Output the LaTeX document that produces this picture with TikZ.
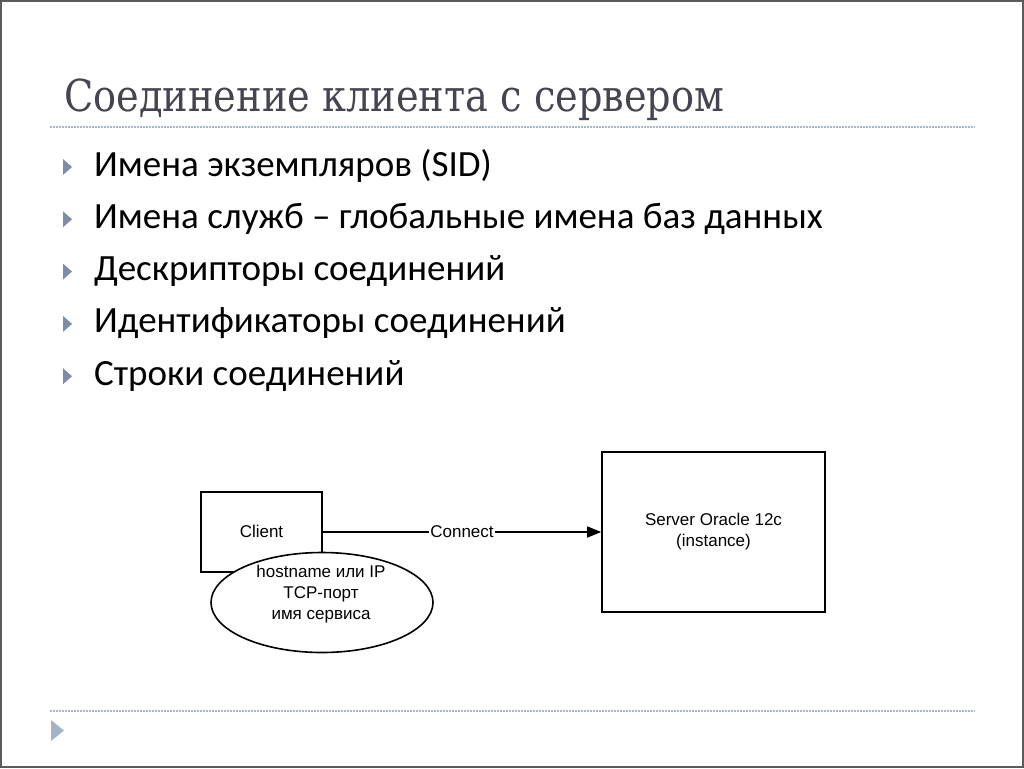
\documentclass[tikz,border=0pt]{standalone}
\usepackage{fontspec}
\setmainfont{Carlito}
\newfontfamily\titlefont{DejaVu Serif}
\newfontfamily\arialfont{Liberation Sans}
\usetikzlibrary{shapes.geometric,arrows.meta}
\definecolor{frame}{HTML}{5A5A5A}
\definecolor{titlecol}{HTML}{45454F}
\definecolor{dotcol}{HTML}{A8B8CC}
\definecolor{bulcol}{HTML}{7C8DAA}
\definecolor{arrcol}{HTML}{A2B4C8}
\tikzset{
  bullettxt/.style={anchor=base west, inner sep=0pt, font=\fontsize{37}{37}\selectfont, text=black},
  bul/.style={fill=bulcol, draw=none},
  dotline/.style={draw=dotcol, line width=1.2pt, dash pattern=on 1.5pt off 1.5pt},
  dgbox/.style={draw=black, line width=1.6pt, fill=white},
  dgtxt/.style={font=\arialfont\fontsize{17}{21}\selectfont, align=center},
}
\begin{document}
\begin{tikzpicture}[x=1pt,y=-1pt]
\useasboundingbox (0,0) rectangle (1024,768);
\draw[frame, line width=2.5pt] (1,1) rectangle (1023,767);
% title
\node[anchor=base west, inner sep=0pt, text=titlecol] (title) at (64,111)
  {\titlefont\fontsize{44}{44}\selectfont\resizebox{660pt}{\height}{Соединение клиента с сервером}};
\draw[dotline] (50,127) -- (975,127);
% bullets
\foreach \i/\t in {0/{Имена экземпляров (SID)},1/{Имена служб – глобальные имена баз данных},2/{Дескрипторы соединений},3/{Идентификаторы соединений},4/{Строки соединений}}{
  \pgfmathsetmacro{\yy}{176+52.3*\i}
  \fill[bul] (63,\yy-17) -- (72,\yy-9) -- (63,\yy-1) -- cycle;
  \node[bullettxt] (b\i) at (94,\yy) {\t};
}
% diagram
\node[dgbox, minimum width=121pt, minimum height=80pt, inner sep=0pt] (client) at (261.5,532) {};
\node[dgbox, minimum width=223pt, minimum height=160pt, inner sep=0pt] (server) at (713.5,532) {};
\node[dgtxt] (clienttxt) at (261.5,531) {Client};
\node[dgtxt] (servertxt) at (713.5,532) {Server Oracle 12c\\(instance)};
\node[dgbox, ellipse, minimum width=222pt, minimum height=100pt, inner sep=0pt] (ell) at (322,602.5) {};
\node[dgtxt] (elltxt) at (321,594) {hostname или IP\\TCP-порт\\имя сервиса};
\draw[line width=1.6pt, -{Triangle[length=14pt,width=11pt]}] (client.east) -- node[fill=white, inner sep=1pt, dgtxt] (conn) {Connect} (server.west);
% bottom
\draw[dotline] (50,711) -- (975,711);
\fill[arrcol] (51,720) -- (64,730.5) -- (51,741) -- cycle;
\end{tikzpicture}
\end{document}
